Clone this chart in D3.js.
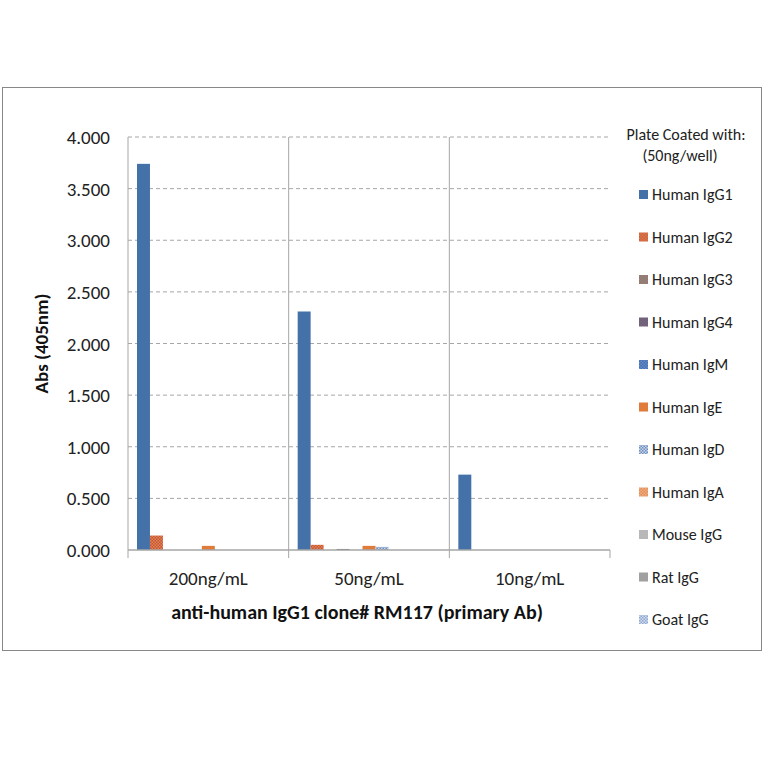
<!DOCTYPE html>
<html><head><meta charset="utf-8">
<script src="https://cdn.jsdelivr.net/npm/d3@7"></script>
<style>body{margin:0;background:#fff;font-family:Calibri,Carlito,"Open Sans",sans-serif;}</style>
</head><body>
<script>
var groups = ['200ng/mL', '50ng/mL', '10ng/mL'];
var series = ['Human IgG1', 'Human IgG2', 'Human IgG3', 'Human IgG4', 'Human IgM', 'Human IgE',
    'Human IgD', 'Human IgA', 'Mouse IgG', 'Rat IgG', 'Goat IgG'];
// values[series][group]
var values = [
    [3.74, 2.31, 0.73],
    [0.14, 0.05, 0],
    [0, 0, 0],
    [0, 0.01, 0],
    [0, 0, 0],
    [0.04, 0.04, 0],
    [0, 0.03, 0],
    [0, 0, 0],
    [0, 0, 0],
    [0, 0, 0],
    [0, 0, 0]
];
var yTicks = [0, 0.5, 1, 1.5, 2, 2.5, 3, 3.5, 4];

// fill: [base, dot colour or null]
var fills = [
    ['#4472a8', null], ['#c0504d', '#e8883a'], ['#8a8a8a', '#a07060'], ['#5a5a7a', '#8a6a7a'],
    ['#3f6fb0', '#6a8fc8'], ['#e07b39', null], ['#c8d4e8', '#6f8fc0'], ['#f0c0a0', '#e07b39'],
    ['#b8b8b8', null], ['#a0a0a0', null], ['#d0dcf0', '#90a8d0']
];

var svg = d3.select('body').append('svg').attr('width', 764).attr('height', 764);
var defs = svg.append('defs');
fills.forEach(function (f, i) {
    if (!f[1]) { return; }
    var p = defs.append('pattern').attr('id', 'p' + i).attr('patternUnits', 'userSpaceOnUse')
        .attr('width', 3).attr('height', 3);
    p.append('rect').attr('width', 3).attr('height', 3).attr('fill', f[0]);
    p.append('rect').attr('width', 1.5).attr('height', 1.5).attr('fill', f[1]);
    p.append('rect').attr('x', 1.5).attr('y', 1.5).attr('width', 1.5).attr('height', 1.5).attr('fill', f[1]);
});
function fillOf(i) { return fills[i][1] ? 'url(#p' + i + ')' : fills[i][0]; }

svg.append('rect').attr('x', 2.5).attr('y', 87.5).attr('width', 759).attr('height', 563)
    .attr('fill', 'none').attr('stroke', '#888');

var pLeft = 128, pRight = 610, pTop = 137, pBottom = 550;
var x0 = d3.scaleBand().domain(groups).range([pLeft, pRight]);
var x1 = d3.scaleBand().domain(d3.range(series.length)).range([9, x0.bandwidth() - 9]);
var y = d3.scaleLinear().domain([0, 4]).range([pBottom, pTop]);

// gridlines
svg.selectAll('.grid').data(yTicks.slice(1)).enter().append('line')
    .attr('x1', pLeft).attr('x2', pRight).attr('y1', function (d) { return y(d); }).attr('y2', function (d) { return y(d); })
    .attr('stroke', '#a6a6a6').attr('stroke-dasharray', '4,3');
// group separators
svg.selectAll('.sep').data(groups.slice(1)).enter().append('line')
    .attr('x1', function (d) { return x0(d); }).attr('x2', function (d) { return x0(d); })
    .attr('y1', pTop).attr('y2', pBottom + 8).attr('stroke', '#a6a6a6');

// bars
series.forEach(function (s, i) {
    svg.selectAll('.b' + i).data(values[i]).enter().append('rect')
        .attr('x', function (d, g) { return x0(groups[g]) + x1(i); })
        .attr('width', x1.bandwidth())
        .attr('y', function (d) { return y(d); })
        .attr('height', function (d) { return pBottom - y(d); })
        .attr('fill', fillOf(i));
});

// axes
svg.append('line').attr('x1', pLeft).attr('x2', pLeft).attr('y1', pTop).attr('y2', pBottom + 8).attr('stroke', '#a6a6a6');
svg.append('line').attr('x1', pLeft).attr('x2', pRight).attr('y1', pBottom).attr('y2', pBottom).attr('stroke', '#a6a6a6').attr('stroke-width', 1.5);
svg.append('line').attr('x1', pRight).attr('x2', pRight).attr('y1', pBottom).attr('y2', pBottom + 8).attr('stroke', '#a6a6a6');
svg.selectAll('.yt').data(yTicks).enter().append('text')
    .attr('x', pLeft - 18).attr('y', function (d) { return y(d) + 7; })
    .attr('text-anchor', 'end').attr('font-size', 19).attr('fill', '#222')
    .text(function (d) { return d3.format('.3f')(d); });
svg.selectAll('.xt').data(groups).enter().append('text')
    .attr('x', function (d) { return x0(d) + x0.bandwidth() / 2; }).attr('y', 585)
    .attr('text-anchor', 'middle').attr('font-size', 19).attr('fill', '#222').text(function (d) { return d; });
svg.append('text').attr('x', (pLeft + pRight) / 2 - 12).attr('y', 619).attr('text-anchor', 'middle')
    .attr('font-size', 20).attr('font-weight', 'bold').attr('fill', '#111')
    .text('anti-human IgG1 clone# RM117 (primary Ab)');
svg.append('text').attr('transform', 'translate(48,' + (pTop + pBottom) / 2 + ') rotate(-90)')
    .attr('text-anchor', 'middle').attr('font-size', 19).attr('font-weight', 'bold').attr('fill', '#111')
    .text('Abs (405nm)');

// legend
svg.append('text').attr('x', 686).attr('y', 140).attr('text-anchor', 'middle').attr('font-size', 16).attr('fill', '#222').text('Plate Coated with:');
svg.append('text').attr('x', 680).attr('y', 161).attr('text-anchor', 'middle').attr('font-size', 16).attr('fill', '#222').text('(50ng/well)');
var lg = svg.selectAll('.lg').data(series).enter().append('g')
    .attr('transform', function (d, i) { return 'translate(639,' + (195 + i * 42.5) + ')'; });
lg.append('rect').attr('x', 0).attr('y', -5).attr('width', 9).attr('height', 9).attr('fill', function (d, i) { return fillOf(i); });
lg.append('text').attr('x', 13).attr('y', 5).attr('font-size', 16).attr('fill', '#222').text(function (d) { return d; });
</script>
</body></html>
